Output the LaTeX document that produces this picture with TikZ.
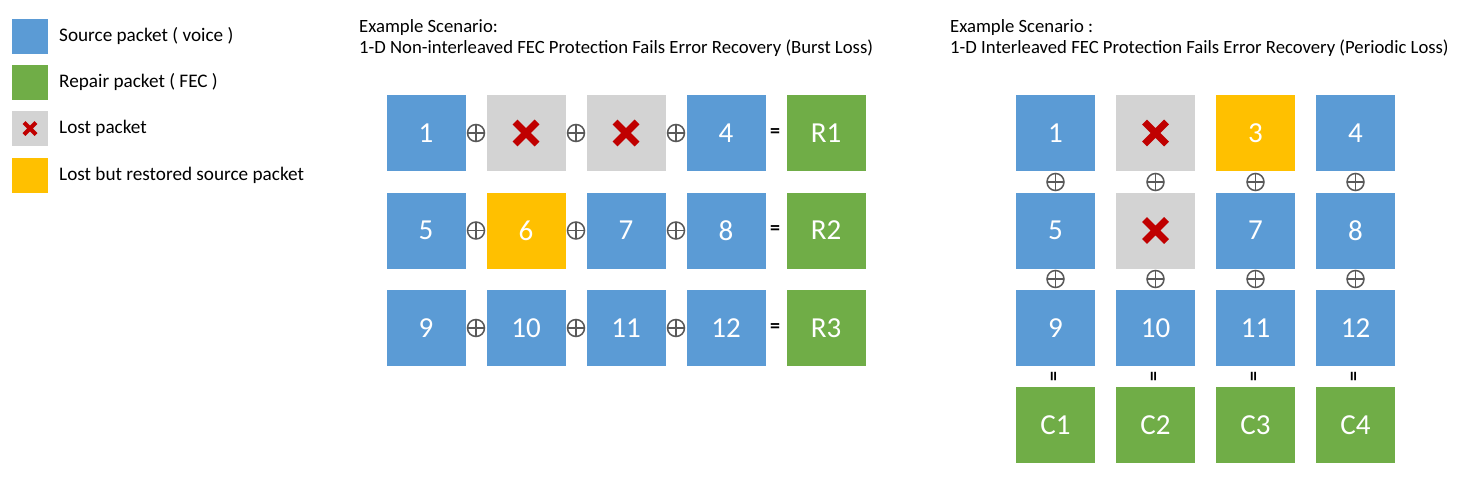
\documentclass[tikz,border=0pt]{standalone}
\usepackage{fontspec}
\setmainfont{Carlito}
\definecolor{srcblue}{HTML}{5B9BD5}
\definecolor{fecgreen}{HTML}{70AD47}
\definecolor{lostgray}{HTML}{D3D3D3}
\definecolor{restyellow}{HTML}{FFC000}
\definecolor{xred}{HTML}{C00000}
\definecolor{opgray}{HTML}{595959}
\tikzset{
  pkt/.style={minimum width=79pt,minimum height=76pt,inner sep=0pt,text=white,font=\fontsize{29}{32}\selectfont},
  src/.style={pkt,fill=srcblue},
  fec/.style={pkt,fill=fecgreen},
  lost/.style={pkt,fill=lostgray},
  rest/.style={pkt,fill=restyellow},
  legbox/.style={minimum width=36pt,minimum height=35pt,inner sep=0pt},
  legtext/.style={anchor=west,inner sep=0pt,font=\fontsize{19.2}{22}\selectfont},
  title/.style={anchor=west,inner sep=0pt,align=left,font=\fontsize{18.7}{21}\selectfont},
  xorop/.style={circle,draw=opgray,line width=1.5pt,minimum size=17pt,inner sep=0pt,
    path picture={\draw[opgray,line width=1.5pt] (path picture bounding box.north) -- (path picture bounding box.south)
      (path picture bounding box.west) -- (path picture bounding box.east);}},
  eqop/.style={inner sep=0pt,font=\fontsize{20}{22}\selectfont\bfseries},
}
\newcommand{\lostx}[2]{\draw[xred,line width=7pt] ([xshift=-#2,yshift=-#2]#1.center) -- ([xshift=#2,yshift=#2]#1.center) ([xshift=-#2,yshift=#2]#1.center) -- ([xshift=#2,yshift=-#2]#1.center);}
\begin{document}
\begin{tikzpicture}[x=1pt,y=-1pt]
\useasboundingbox[fill=white] (0,0) rectangle (1473,479);
% legend
\node[legbox,fill=srcblue] (lg1) at (30,36) {};
\node[legbox,fill=fecgreen] (lg2) at (30,82) {};
\node[legbox,fill=lostgray] (lg3) at (30,128.5) {};
\node[legbox,fill=restyellow] (lg4) at (30,175) {};
\draw[xred,line width=4pt] ([xshift=-6pt,yshift=-6pt]lg3.center) -- ([xshift=6pt,yshift=6pt]lg3.center)
  ([xshift=-6pt,yshift=6pt]lg3.center) -- ([xshift=6pt,yshift=-6pt]lg3.center);
\node[legtext] (lt1) at (59,36) {Source packet ( voice )};
\node[legtext] (lt2) at (59,82) {Repair packet ( FEC )};
\node[legtext] (lt3) at (59,128.5) {Lost packet};
\node[legtext] (lt4) at (59,175) {Lost but restored source packet};
% titles
\node[title] (t1a) at (359,28) {Example Scenario:};
\node[title] (t1b) at (359,48) {1-D Non-interleaved FEC Protection Fails Error Recovery (Burst Loss)};
\node[title] (t2a) at (950,28) {Example Scenario :};
\node[title] (t2b) at (950,48) {1-D Interleaved FEC Protection Fails Error Recovery (Periodic Loss)};
% left grid
\node[src] (a1) at (426,133) {1};
\node[lost] (a2) at (526,133) {};
\node[lost] (a3) at (626,133) {};
\node[src] (a4) at (726,133) {4};
\node[fec] (ar1) at (826,133) {R1};
\node[src] (a5) at (426,230.5) {5};
\node[rest] (a6) at (526,230.5) {6};
\node[src] (a7) at (626,230.5) {7};
\node[src] (a8) at (726,230.5) {8};
\node[fec] (ar2) at (826,230.5) {R2};
\node[src] (a9) at (426,328) {9};
\node[src] (a10) at (526,328) {10};
\node[src] (a11) at (626,328) {11};
\node[src] (a12) at (726,328) {12};
\node[fec] (ar3) at (826,328) {R3};
\lostx{a2}{11pt}
\lostx{a3}{11pt}
\foreach \r/\y in {1/133,2/230.5,3/328}{
  \node[xorop] (ax\r a) at (476,\y) {};
  \node[xorop] (ax\r b) at (576,\y) {};
  \node[xorop] (ax\r c) at (676,\y) {};
  \node[eqop] (ae\r) at (775,\y) {=};
}
% right grid
\node[src] (b1) at (1055.5,133) {1};
\node[lost] (b2) at (1155.5,133) {};
\node[rest] (b3) at (1255.5,133) {3};
\node[src] (b4) at (1355.5,133) {4};
\node[src] (b5) at (1055.5,230.5) {5};
\node[lost] (b6) at (1155.5,230.5) {};
\node[src] (b7) at (1255.5,230.5) {7};
\node[src] (b8) at (1355.5,230.5) {8};
\node[src] (b9) at (1055.5,328) {9};
\node[src] (b10) at (1155.5,328) {10};
\node[src] (b11) at (1255.5,328) {11};
\node[src] (b12) at (1355.5,328) {12};
\node[fec] (bc1) at (1055.5,425) {C1};
\node[fec] (bc2) at (1155.5,425) {C2};
\node[fec] (bc3) at (1255.5,425) {C3};
\node[fec] (bc4) at (1355.5,425) {C4};
\lostx{b2}{11pt}
\lostx{b6}{11pt}
\foreach \c/\x in {1/1055.5,2/1155.5,3/1255.5,4/1355.5}{
  \node[xorop] (bx\c a) at (\x,182) {};
  \node[xorop] (bx\c b) at (\x,279) {};
  \node[eqop,rotate=90] (be\c) at (\x,377) {=};
}
\end{tikzpicture}
\end{document}
